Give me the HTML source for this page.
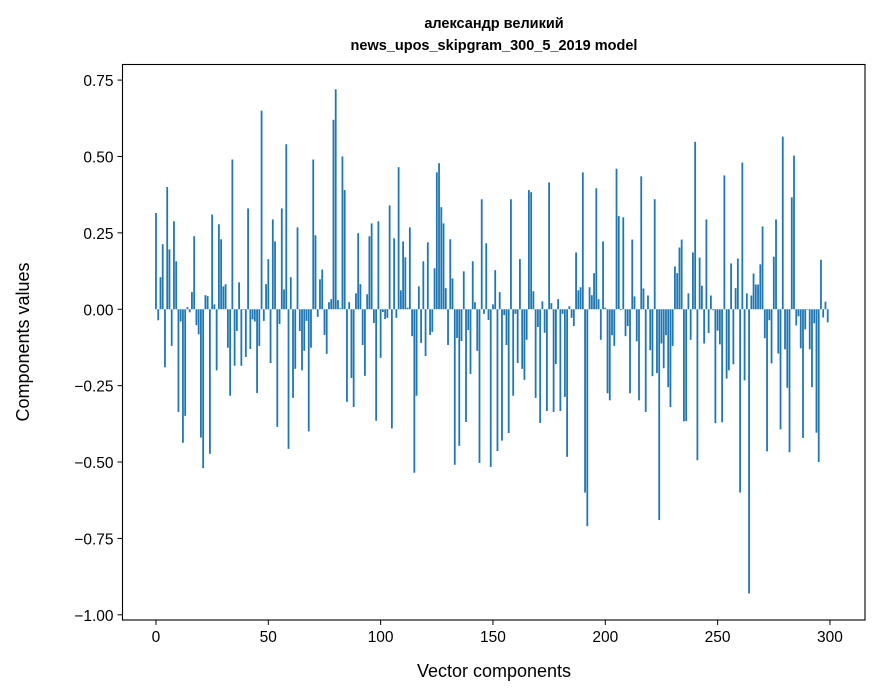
<!DOCTYPE html>
<html><head><meta charset="utf-8"><style>
html,body{margin:0;padding:0;background:#fff}
svg{display:block;font-family:"Liberation Sans","DejaVu Sans",sans-serif}
</style></head><body>
<svg id="chart" width="880" height="696" viewBox="0 0 880 696">
<rect width="880" height="696" fill="#fff"/>
<text x="494" y="28" text-anchor="middle" font-size="14.5" font-weight="bold">александр великий</text>
<text x="494" y="50" text-anchor="middle" font-size="14.5" font-weight="bold">news_upos_skipgram_300_5_2019 model</text>
<g id="bars"></g>
<g id="xaxis"></g>
<g id="yaxis"></g>
<rect x="122.5" y="64.5" width="742.5" height="555.5" fill="none" stroke="#000" stroke-width="1.1"/>
<text x="494" y="677" text-anchor="middle" font-size="18">Vector components</text>
<text transform="translate(29,342) rotate(-90)" text-anchor="middle" font-size="18">Components values</text>
</svg>
<script>
const values = [
0.315,-0.036,0.105,0.213,-0.19,0.40,0.196,-0.12,0.288,0.157,
-0.336,-0.04,-0.437,-0.349,0.007,-0.01,0.056,0.239,-0.052,-0.082,
-0.42,-0.52,0.046,0.043,-0.473,0.31,0.016,-0.2,0.278,0.229,
0.075,0.082,-0.126,-0.283,0.49,-0.185,-0.071,0.088,-0.185,-0.002,
-0.156,0.33,-0.13,-0.033,-0.04,-0.274,-0.12,0.65,-0.038,
0.082,0.164,-0.176,0.294,0.222,-0.385,-0.048,0.33,0.065,0.54,
-0.457,0.105,-0.29,-0.195,0.268,-0.071,-0.2,-0.136,-0.038,-0.40,
-0.126,0.49,0.242,-0.025,0.098,0.13,-0.084,-0.146,0.023,0.033,
0.62,0.72,0.03,0.003,0.50,0.39,-0.303,0.023,-0.225,-0.32,
0.052,0.249,0.082,-0.117,-0.218,0.049,0.239,0.281,-0.045,
-0.365,0.288,-0.159,-0.009,-0.032,-0.028,0.34,-0.39,0.232,-0.028,
0.465,0.062,0.222,0.17,0.005,0.268,-0.088,-0.535,-0.283,0.075,
-0.11,0.157,-0.153,0.219,-0.084,-0.074,0.134,0.448,0.478,0.334,
0.281,0.069,-0.117,0.229,0.101,-0.509,-0.094,-0.447,-0.104,0.124,
-0.369,-0.068,-0.212,0.157,0.023,-0.136,-0.503,0.36,-0.015,0.216,
-0.035,-0.516,0.016,0.128,-0.464,0.056,-0.43,-0.019,-0.117,-0.405,
0.36,-0.283,-0.015,-0.176,0.164,-0.195,-0.231,-0.1,0.39,0.383,
0.059,-0.29,-0.058,-0.372,0.026,-0.077,-0.333,0.415,0.02,-0.336,
-0.179,0.033,-0.333,-0.015,-0.287,-0.483,0.01,-0.028,-0.055,0.186,
0.062,0.072,0.448,-0.60,-0.71,0.072,0.046,0.118,
0.396,0.033,-0.1,0.222,0.005,-0.275,-0.298,-0.085,-0.12,0.46,
0.305,-0.003,0.301,-0.088,-0.055,-0.275,0.228,0.042,-0.105,-0.298,
0.435,0.068,-0.336,0.045,-0.134,-0.219,0.36,-0.209,-0.69,-0.112,
-0.193,-0.085,-0.255,-0.32,-0.12,0.14,0.118,0.202,0.228,-0.367,
-0.366,0.052,-0.1,0.186,0.548,-0.494,0.169,0.077,-0.112,0.294,
-0.078,
0.045,-0.003,-0.373,-0.07,-0.115,-0.37,0.438,-0.227,-0.2,0.15,
-0.18,0.069,0.166,-0.6,0.48,-0.233,0.052,-0.93,0.045,0.117,
0.081,0.081,0.147,0.271,-0.095,-0.465,-0.036,-0.177,0.172,0.294,
-0.145,-0.393,0.565,-0.131,-0.257,-0.468,0.366,0.503,-0.053,-0.023,
-0.128,-0.421,-0.066,-0.002,-0.131,-0.255,-0.046,-0.404,-0.5,0.162,
-0.027,0.025,-0.043
];
const xTicks = [0,50,100,150,200,250,300];
const yTicks = [0.75,0.5,0.25,0,-0.25,-0.5,-0.75,-1.0];
const yTickLabels = ["0.75","0.50","0.25","0.00","\u22120.25","\u22120.50","\u22120.75","\u22121.00"];

const NS = "http://www.w3.org/2000/svg";
const L=122.5,R=865,T=64.5,B=620;
const xMin=-14.9,xMax=315.6,yMin=-1.017,yMax=0.801;
function xs(v){return L+(v-xMin)/(xMax-xMin)*(R-L);}
function ys(v){return B-(v-yMin)/(yMax-yMin)*(B-T);}
function mk(tag,attrs,parent){const e=document.createElementNS(NS,tag);for(const k in attrs)e.setAttribute(k,attrs[k]);parent.appendChild(e);return e;}

const gb=document.getElementById('bars');
values.forEach((v,i)=>{
  const x0=xs(i-0.4),x1=xs(i+0.4),y0=ys(0),y1=ys(v);
  const r=mk('rect',{x:x0,y:Math.min(y0,y1),width:x1-x0,height:Math.max(0.3,Math.abs(y1-y0)),fill:'#1f77b4'},gb);
  
  
});
const gx=document.getElementById('xaxis');
xTicks.forEach(t=>{
  const x=xs(t);
  const l=mk('line',{x1:x,x2:x,y1:B,y2:B+5,stroke:'#000','stroke-width':1},gx);
  
  
  const tx=mk('text',{x:x,y:B+22,'text-anchor':'middle','font-size':'15.5'},gx);
  tx.textContent=String(t);
  
  
});
const gy=document.getElementById('yaxis');
yTicks.forEach((t,i)=>{
  const y=ys(t);
  const l=mk('line',{x1:L-5,x2:L,y1:y,y2:y,stroke:'#000','stroke-width':1},gy);
  
  
  const tx=mk('text',{x:L-9,y:y+6,'text-anchor':'end','font-size':'15.5'},gy);
  tx.textContent=yTickLabels[i];
  
  
});
</script>
</body></html>
